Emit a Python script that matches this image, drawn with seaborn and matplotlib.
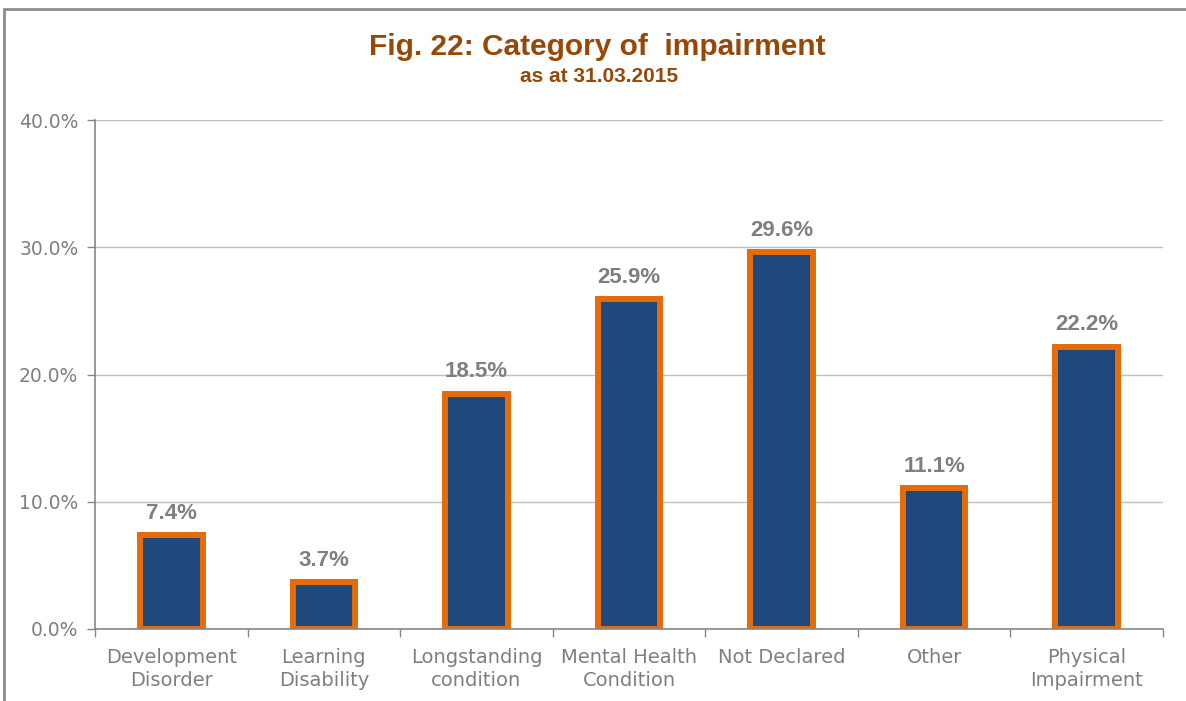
import numpy as np
import pandas as pd
import seaborn as sns
import matplotlib.pyplot as plt
from matplotlib.patches import Rectangle
from matplotlib.ticker import FuncFormatter, FixedLocator

categories = ['Development\nDisorder', 'Learning\nDisability', 'Longstanding\ncondition',
              'Mental Health\nCondition', 'Not Declared', 'Other', 'Physical\nImpairment']
values = [7.4, 3.7, 18.5, 25.9, 29.6, 11.1, 22.2]
labels = ['7.4%', '3.7%', '18.5%', '25.9%', '29.6%', '11.1%', '22.2%']

df = pd.DataFrame({'category': categories, 'value': values})

sns.set_style('white')
plt.rcParams['font.family'] = ['DejaVu Sans']

fig = plt.figure(figsize=(11.86, 7.01), dpi=100)
ax = fig.add_axes([95 / 1186, 1 - 629 / 701, (1163 - 95) / 1186, (629 - 120) / 701])

sns.barplot(data=df, x='category', y='value', ax=ax, color='#1F497D',
            edgecolor='#E46C0A', linewidth=4.3, width=0.41, saturation=1)

for i, (v, t) in enumerate(zip(values, labels)):
    ax.annotate(t, (i, v), xytext=(0, 8), textcoords='offset points',
                ha='center', va='bottom', fontsize=16, fontweight='bold',
                color='#7F7F7F', family='Liberation Sans')

ax.set_ylim(0, 40)
ax.set_xlim(-0.5, 6.5)
ax.set_yticks([0, 10, 20, 30, 40])
ax.yaxis.set_major_formatter(FuncFormatter(lambda y, _: f'{y:.1f}%'))
ax.yaxis.grid(True, color='#BFBFBF', linewidth=1)
ax.set_axisbelow(True)
ax.set_xlabel('')
ax.set_ylabel('')

ax.xaxis.set_minor_locator(FixedLocator(np.arange(-0.5, 7, 1)))
ax.tick_params(axis='x', which='major', length=0, pad=14, labelsize=14, labelcolor='#7F7F7F')
ax.tick_params(axis='x', which='minor', length=6, width=1, color='#868686', direction='out', bottom=True)
ax.tick_params(axis='y', length=6, width=1, color='#868686', direction='out', left=True,
               labelsize=13.5, labelcolor='#7F7F7F', pad=6)
for lbl in ax.get_xticklabels():
    lbl.set_linespacing(1.25)

for s in ['top', 'right']:
    ax.spines[s].set_visible(False)
for s in ['left', 'bottom']:
    ax.spines[s].set_color('#868686')
    ax.spines[s].set_linewidth(1.2)

fig.patches.append(Rectangle((4 / 1186, -0.1), 1.2, 1 - 9 / 701 + 0.1,
                             transform=fig.transFigure, fill=False,
                             edgecolor='#8C8C8C', linewidth=2, clip_on=False))

fig.text(597 / 1186, 1 - 47 / 701, 'Fig. 22: Category of  impairment', ha='center', va='center',
         fontsize=21.5, fontweight='bold', color='#974806', family='Liberation Sans')
fig.text(599 / 1186, 1 - 76 / 701, 'as at 31.03.2015', ha='center', va='center',
         fontsize=15, fontweight='bold', color='#974806', family='Liberation Sans')

fig.savefig('out.png', dpi=100)
